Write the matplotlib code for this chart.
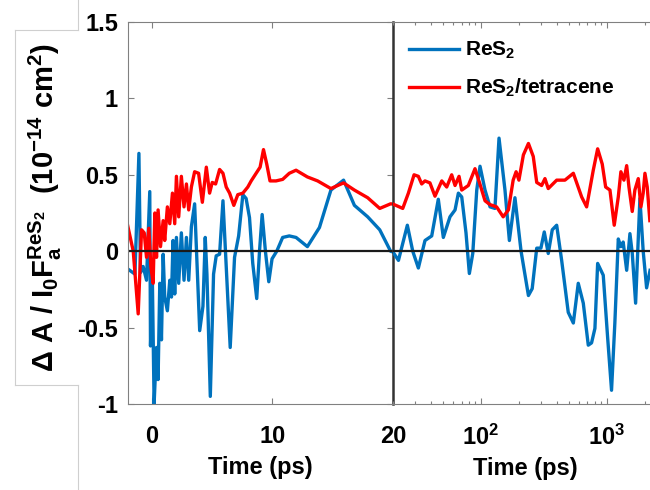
import matplotlib
matplotlib.use('Agg')
import matplotlib.pyplot as plt
import numpy as np
from matplotlib.lines import Line2D
from matplotlib.ticker import LogLocator, NullFormatter

plt.rcParams['font.family'] = ['Liberation Sans', 'DejaVu Sans']
plt.rcParams['font.weight'] = 'bold'
plt.rcParams['mathtext.default'] = 'regular'

# ReS2 (blue) : time in ps, signal
blue_t = [-2.1, -1.4, -1.07, -0.94, -0.72, -0.44, -0.17, -0.11, 0.05, 0.19, 0.39, 0.52,
          0.66, 0.80, 0.94, 1.07, 1.29, 1.49, 1.63, 1.76, 1.90, 2.04, 2.23, 2.45, 2.67,
          2.87, 3.06, 3.28, 3.55, 3.97, 4.24, 4.43, 4.57, 4.85, 5.12, 5.34, 5.62, 5.9,
          6.12, 6.5, 6.86, 7.2, 7.55, 7.82, 8.1, 8.37, 8.7, 8.93, 9.15, 9.42, 9.7, 9.97,
          10.36, 10.85, 11.4, 11.96, 12.9, 13.9, 14.85, 15.9, 16.8, 17.9, 18.9, 19.8,
          22.1, 26.0, 28.7, 31.8, 35.9, 40.6, 45.8, 50.2, 56.7, 62.2, 66.1, 70.3, 76,
          80.8, 86, 92.5, 98.2, 107.6, 118, 129, 139, 155, 168, 186, 208, 238, 255, 277,
          299, 318, 342, 368, 399, 437, 493, 541, 592, 649, 711, 755, 803, 844, 935,
          1012, 1088, 1156, 1231, 1291, 1346, 1435, 1523, 1590, 1690, 1828, 1941, 2066,
          2200]
blue_y = [-0.11, -0.15, 0.64, -0.14, -0.10, -0.19, 0.39, -0.62, -0.21, -1.0, -0.63, -0.84,
          -0.21, -0.58, -0.02, -0.30, -0.39, -0.19, -0.30, 0.07, -0.28, 0.09, -0.21, 0.12,
          -0.19, 0.09, -0.19, 0.16, 0.31, -0.52, -0.36, 0.09, -0.15, -0.95, -0.15, -0.03,
          -0.02, 0.33, -0.02, -0.63, -0.04, 0.10, 0.37, 0.345, 0.22, -0.08, -0.31, 0.0,
          0.24, 0.0, -0.20, -0.05, 0.0, 0.09, 0.10, 0.09, 0.03, 0.155, 0.40, 0.465, 0.30,
          0.225, 0.14, 0.0,
          -0.06, 0.17, 0.0, -0.11, 0.07, 0.10, 0.34, 0.09, 0.225, 0.27, 0.38, 0.355, 0.12,
          -0.146, -0.015, 0.40, 0.556, 0.40, 0.29, 0.28, 0.74, 0.40, 0.07, 0.35, 0.0,
          -0.29, -0.245, 0.02, 0.02, 0.126, -0.015, 0.14, 0.17, -0.06, -0.40, -0.47, -0.21,
          -0.34, -0.615, -0.60, -0.505, -0.08, -0.157, -0.56, -0.91, -0.47, 0.08, 0.03,
          0.06, -0.125, 0.115, -0.015, -0.34, 0.345, 0.0, -0.24, -0.125]

# ReS2/tetracene (red)
red_t = [-2.09, -1.54, -1.13, -0.85, -0.63, -0.44, -0.25, -0.08, 0.11, 0.25, 0.39, 0.52,
         0.72, 0.94, 1.07, 1.29, 1.49, 1.71, 1.90, 2.04, 2.23, 2.45, 2.67, 2.87, 3.06,
         3.28, 3.55, 3.88, 4.19, 4.52, 4.79, 5.01, 5.29, 5.62, 5.9, 6.17, 6.45, 6.8, 7.13,
         7.55, 7.96, 8.24, 8.65, 8.98, 9.26, 9.53, 9.8, 10.3, 10.85, 11.4, 11.96, 12.9,
         13.75, 14.85, 15.9, 16.8, 17.9, 18.9, 19.8,
         23.9, 26.5, 29.4, 31.8, 33.8, 35.9, 39.3, 43.1, 48.8, 53.4, 58.5, 62.2, 66.9,
         70.3, 79.3, 89.6, 98, 107.6, 117.9, 133, 150, 165, 180, 190, 200, 217, 238, 260,
         277, 303, 322, 342, 399, 464, 541, 630, 690, 779, 844, 918, 977, 1057, 1143,
         1231, 1291, 1365, 1435, 1496, 1589, 1667, 1774, 1862, 1941, 2004, 2090, 2192]
red_y = [0.20, 0.0, -0.41, 0.14, 0.12, -0.04, 0.15, -0.10, -0.21, 0.25, -0.04, 0.27,
         0.03, 0.20, 0.07, 0.29, 0.18, 0.38, 0.18, 0.49, 0.225, 0.49, 0.29, 0.44, 0.27,
         0.42, 0.52, 0.51, 0.32, 0.55, 0.38, 0.45, 0.44, 0.535, 0.51, 0.42, 0.38, 0.30,
         0.37, 0.38, 0.42, 0.46, 0.51, 0.55, 0.665, 0.57, 0.46, 0.46, 0.47, 0.51, 0.53,
         0.486, 0.46, 0.41, 0.447, 0.40, 0.35, 0.28, 0.31,
         0.28, 0.38, 0.50, 0.49, 0.44, 0.46, 0.447, 0.36, 0.46, 0.42, 0.50, 0.43, 0.49,
         0.40, 0.43, 0.54, 0.44, 0.33, 0.305, 0.29, 0.225, 0.27, 0.465, 0.52, 0.465, 0.63,
         0.705, 0.62, 0.45, 0.43, 0.475, 0.41, 0.465, 0.465, 0.51, 0.355, 0.29, 0.53,
         0.67, 0.57, 0.42, 0.40, 0.17, 0.355, 0.52, 0.465, 0.56, 0.42, 0.26, 0.40, 0.475,
         0.29, 0.38, 0.51, 0.42, 0.20]

blue_t, blue_y = np.array(blue_t), np.array(blue_y)
red_t, red_y = np.array(red_t), np.array(red_y)

W, H = 650, 490
fig = plt.figure(figsize=(6.5, 4.9), dpi=100)

def px_rect(x0, y0, x1, y1):
    return [x0 / W, 1 - y1 / H, (x1 - x0) / W, (y1 - y0) / H]

ax1 = fig.add_axes(px_rect(127.7, 22, 393, 404))
ax2 = fig.add_axes(px_rect(393, 22, 667, 404))
ax2.patch.set_alpha(0)

BLUE = '#0072BD'
RED = '#FF0000'
GREY = '#808080'
LW = 2.4
FS = 17

# linear part
m1b = blue_t < 25
m1r = red_t < 25
l1, = ax1.plot(blue_t[m1b], blue_y[m1b], color=BLUE, lw=LW)
l2, = ax1.plot(red_t[m1r], red_y[m1r], color=RED, lw=LW)
ax1.axhline(0, color='#1a1a1a', lw=1.6)
ax1.set_xlim(-2, 20)
ax1.set_ylim(-1, 1.5)
ax1.set_xticks([0, 10, 20])
ax1.set_yticks([-1, -0.5, 0, 0.5, 1, 1.5])
ax1.set_yticklabels(['-1', '-0.5', '0', '0.5', '1', '1.5'])
ax1.tick_params(direction='in', top=True, right=True, length=4, width=0.8,
                color=GREY, labelsize=FS, pad=7)
ax1.tick_params(axis='x', pad=15)
for s in ['left', 'top', 'bottom']:
    ax1.spines[s].set_color(GREY)
    ax1.spines[s].set_linewidth(0.8)
ax1.spines['right'].set_color('#333333')
ax1.spines['right'].set_linewidth(1.8)
ax1.set_xlabel('Time (ps)', fontsize=FS, fontweight='bold')
ax1.xaxis.set_label_coords(0.5, -0.135)

# log part
m2b = blue_t > 19
m2r = red_t > 19
ax2.plot(blue_t[m2b], blue_y[m2b], color=BLUE, lw=LW)
ax2.plot(red_t[m2r], red_y[m2r], color=RED, lw=LW)
ax2.axhline(0, color='#1a1a1a', lw=1.6)
ax2.set_xscale('log')
ax2.set_xlim(20, 3000)
ax2.set_ylim(-1, 1.5)
ax2.set_yticks([])
ax2.xaxis.set_major_locator(LogLocator(base=10, subs=(1.0,)))
ax2.xaxis.set_minor_locator(LogLocator(base=10, subs=np.arange(2, 10)))
ax2.xaxis.set_minor_formatter(NullFormatter())
ax2.tick_params(axis='x', which='both', direction='in', top=True, color=GREY,
                width=0.8, labelsize=FS, pad=15)
ax2.tick_params(axis='x', which='major', length=4)
ax2.tick_params(axis='x', which='minor', length=2)
ax2.spines['left'].set_visible(False)
for s in ['right', 'top', 'bottom']:
    ax2.spines[s].set_color(GREY)
    ax2.spines[s].set_linewidth(0.8)
ax2.set_xlabel('Time (ps)', fontsize=FS, fontweight='bold')
ax2.xaxis.set_label_coords(0.482, -0.14)

ax2.legend([l1, l2], ['ReS$_2$', 'ReS$_2$/tetracene'], loc='upper left',
           bbox_to_anchor=(409 / W, 1 - 40 / H), bbox_transform=fig.transFigure,
           frameon=False, fontsize=15, handlelength=2.4, handletextpad=0.3,
           labelspacing=0.75, borderpad=0, borderaxespad=0)

fig.text(45 / W, 1 - 208 / H,
         'Δ A / I$_0$F$_a^{ReS_2}$  (10$^{-14}$ cm$^2$)',
         rotation=90, ha='center', va='center', fontsize=21, fontweight='bold')

# faint edges of the pasted label image
edge = dict(color='#cfcfcf', lw=0.8, transform=fig.transFigure)
fig.add_artist(Line2D([78 / W, 78 / W], [1, 1 - 30 / H], **edge))
fig.add_artist(Line2D([78 / W, 78 / W], [1 - 385 / H, 0], **edge))
fig.add_artist(Line2D([15 / W, 78 / W], [1 - 30 / H, 1 - 30 / H], **edge))
fig.add_artist(Line2D([15 / W, 78 / W], [1 - 385 / H, 1 - 385 / H], **edge))
fig.add_artist(Line2D([15 / W, 15 / W], [1 - 30 / H, 1 - 385 / H], **edge))

fig.savefig('out.png', dpi=100)
